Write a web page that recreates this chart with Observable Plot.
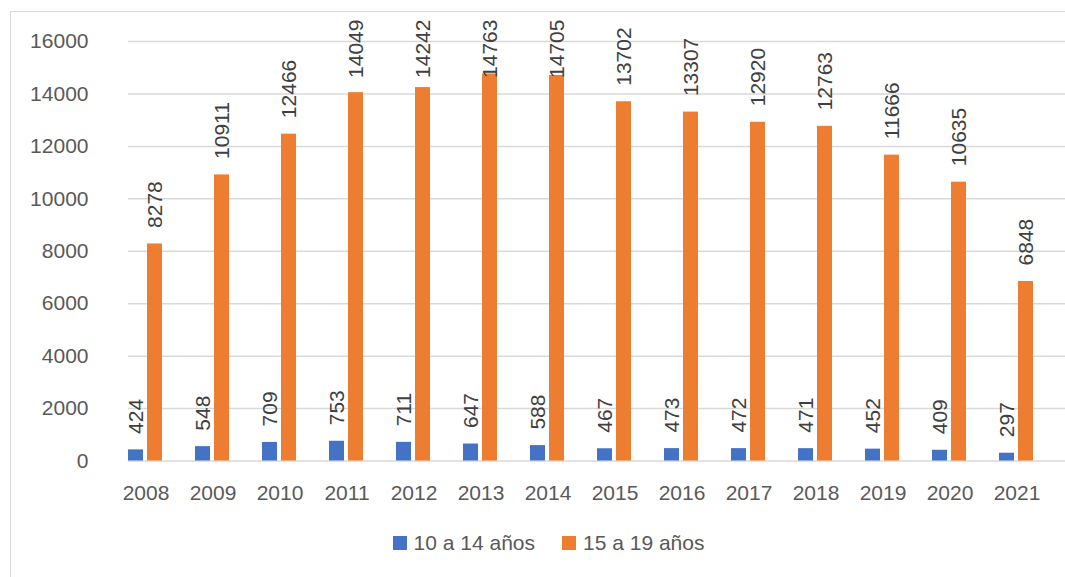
<!DOCTYPE html>
<html>
<head>
<meta charset="utf-8">
<script src="https://cdn.jsdelivr.net/npm/d3@7"></script>
<script src="https://cdn.jsdelivr.net/npm/@observablehq/plot@0.6"></script>
<style>
  html, body { margin: 0; padding: 0; background: #fff; overflow: hidden; }
  #wrap { position: relative; width: 1065px; height: 577px; overflow: hidden; font-family: "Liberation Sans", Arial, sans-serif; }
  #frame { position: absolute; left: 10px; top: 11px; width: 1200px; height: 700px; border: 1px solid #d9d9d9; box-sizing: border-box; }
  #chart { position: absolute; left: 0; top: 0; }
  #legend { position: absolute; top: 531px; left: 0; width: 1065px; display: flex; justify-content: center; gap: 27px; padding-left: 32px; box-sizing: border-box; font-size: 21px; color: #595959; }
  .item { display: flex; align-items: center; gap: 7px; }
  .sw { width: 14px; height: 14px; display: inline-block; }
</style>
</head>
<body>
<div id="wrap">
  <div id="frame"></div>
  <div id="chart"></div>
  <div id="legend"></div>
</div>
<script>
const years = ["2008","2009","2010","2011","2012","2013","2014","2015","2016","2017","2018","2019","2020","2021"];
const seriesNames = ["10 a 14 años", "15 a 19 años"];
const values10a14 = [424, 548, 709, 753, 711, 647, 588, 467, 473, 472, 471, 452, 409, 297];
const values15a19 = [8278, 10911, 12466, 14049, 14242, 14763, 14705, 13702, 13307, 12920, 12763, 11666, 10635, 6848];
const colors = ["#4472C4", "#ED7D31"];
const yTicks = [0, 2000, 4000, 6000, 8000, 10000, 12000, 14000, 16000];
// labels that would run past the top of the plot are pushed down (as in the original)
const labelCap = 14000;

const data = [];
years.forEach((yr, i) => {
  data.push({year: yr, series: seriesNames[0], value: values10a14[i]});
  data.push({year: yr, series: seriesNames[1], value: values15a19[i]});
});

const W = 1065, ML = 111, MR = 15;
const chart = Plot.plot({
  width: W,
  height: 520,
  marginLeft: ML,
  marginRight: MR,
  marginTop: 41,
  marginBottom: 59.5,
  style: {fontFamily: "'Liberation Sans', Arial, sans-serif", fontSize: "21px", color: "#595959", background: "transparent"},
  fx: {domain: years, paddingInner: 0.478, paddingOuter: 0.239, label: null, axis: "bottom", tickSize: 0, tickPadding: 24},
  x: {domain: seriesNames, paddingInner: 0.2, paddingOuter: 0, axis: null},
  y: {domain: [0, 16000], label: null},
  color: {domain: seriesNames, range: colors},
  marks: [
    Plot.axisY({ticks: yTicks, tickSize: -(W - ML - MR), tickFormat: () => "", stroke: "#d9d9d9", strokeWidth: 1.5, strokeOpacity: 1, label: null}),
    Plot.axisY({ticks: yTicks, tickSize: 0, tickPadding: 23, dx: -17, tickFormat: d => String(d), label: null, fontSize: 21, fill: "#595959"}),
    Plot.barY(data, {fx: "year", x: "series", y: "value", fill: "series"}),
    Plot.text(data, {fx: "year", x: "series", y: d => Math.min(d.value, labelCap), text: d => String(d.value), rotate: -90, textAnchor: "start", dy: -16, fontSize: 21, fill: "#404040"})
  ]
});
document.getElementById("chart").appendChild(chart);

const legend = document.getElementById("legend");
seriesNames.forEach((s, i) => {
  const it = document.createElement("div");
  it.className = "item";
  const sw = document.createElement("span");
  sw.className = "sw";
  sw.style.background = colors[i];
  const t = document.createElement("span");
  t.textContent = s;
  it.appendChild(sw); it.appendChild(t);
  legend.appendChild(it);
});
</script>
</body>
</html>
